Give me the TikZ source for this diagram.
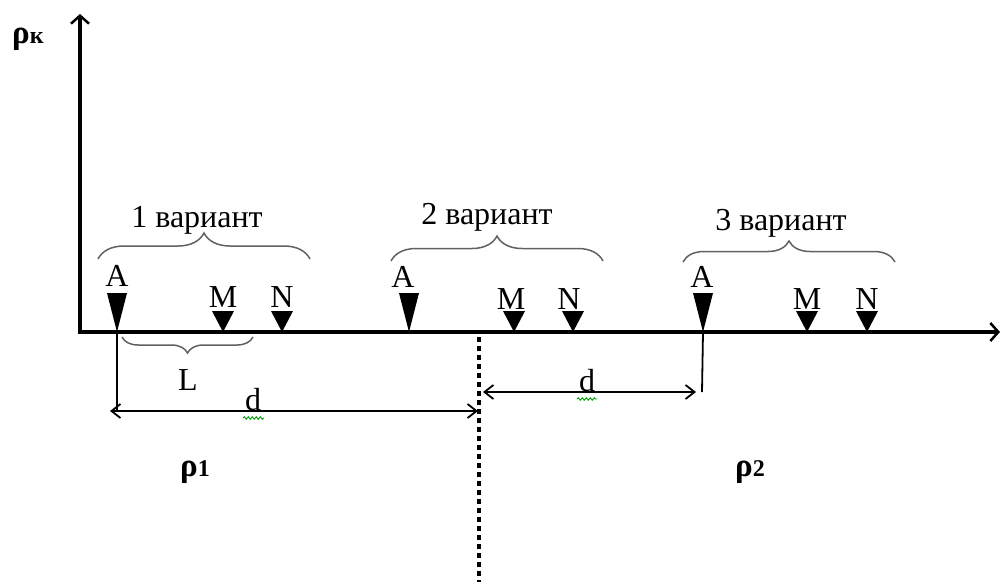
\documentclass[tikz,border=0pt]{standalone}
\usepackage{fontspec}
\setmainfont{Liberation Serif}
\usetikzlibrary{arrows.meta,decorations.pathreplacing,decorations.pathmorphing}
\begin{document}
\begin{tikzpicture}[x=1pt,y=-1pt,
  axisline/.style={line width=4pt,-{Straight Barb[length=8pt,width=18pt,line width=2.5pt]}},
  dimline/.style={line width=1.8pt,{Straight Barb[length=9pt,width=14pt]}-{Straight Barb[length=9pt,width=14pt]}},
  thinline/.style={line width=1.8pt},
  bracestyle/.style={draw=black!62,line width=1.5pt,decorate,decoration={brace,amplitude=#1}},
  lbl/.style={font=\fontsize{32}{34}\selectfont,inner sep=0pt},
  rholbl/.style={font=\fontsize{33}{34}\selectfont\bfseries,inner sep=0pt},
  squig/.style={draw=green!60!black,line width=0.9pt,decorate,decoration={snake,segment length=4pt,amplitude=1.2pt}},
  divider/.style={line width=4pt,dash pattern=on 4.5pt off 4.5pt}
]
\useasboundingbox (0,0) rectangle (1000,582);

% axes
\coordinate (O) at (80,332);
\coordinate (Ytop) at (80,14);
\coordinate (Xend) at (1000,332);
\draw[axisline] (O) -- (Ytop);
\draw[axisline] ([xshift=-2pt]O) -- (Xend);
\node[rholbl,anchor=base west] (rhok) at (12,43) {ρ\fontsize{24}{24}\selectfont к};

% electrodes
\foreach \n/\x in {A1/117,M1/223,N1/282,A2/409,M2/514,N2/573,A3/703,M3/807,N3/867}{
  \coordinate (\n) at (\x,332);
}
\foreach \n in {A1,A2,A3}{
  \fill (\n) -- ++(-10,-39) -- ++(20,0) -- cycle;
}
\foreach \n in {M1,N1,M2,N2,M3,N3}{
  \fill (\n) -- ++(-11,-21) -- ++(22,0) -- cycle;
}
\node[lbl] (lA1) at (117,276) {A};
\node[lbl] (lM1) at (223,297) {M};
\node[lbl] (lN1) at (282,297) {N};
\node[lbl] (lA2) at (403,277) {A};
\node[lbl] (lM2) at (511,299) {M};
\node[lbl] (lN2) at (569,299) {N};
\node[lbl] (lA3) at (702,277) {A};
\node[lbl] (lM3) at (807,299) {M};
\node[lbl] (lN3) at (867,299) {N};

% variant braces
\coordinate (b1s) at (98,259);  \coordinate (b1e) at (310,259);
\coordinate (b2s) at (391,261); \coordinate (b2e) at (603,261);
\coordinate (b3s) at (683,262); \coordinate (b3e) at (895,262);
\draw[bracestyle=26pt] (b1s) -- (b1e);
\draw[bracestyle=25pt] (b2s) -- (b2e);
\draw[bracestyle=21pt] (b3s) -- (b3e);
\node[lbl] (v1) at (197,220) {1 вариант};
\node[lbl] (v2) at (487,217) {2 вариант};
\node[lbl] (v3) at (781,223) {3 вариант};

% L brace
\coordinate (Ls) at (253,337); \coordinate (Le) at (122,337);
\draw[bracestyle=16pt] (Ls) -- (Le);
\node[lbl] (Llbl) at (188,380) {L};

% boundary
\coordinate (Dtop) at (479,337);
\coordinate (Dbot) at (479,582);
\draw[divider] (Dtop) -- (Dbot);

% d dimensions
\coordinate (d1l) at (117,411);
\coordinate (d1r) at (Dtop |- d1l);
\draw[thinline] (A1) -- (d1l);
\draw[dimline] ([xshift=-7pt]d1l) -- ([xshift=-1pt]d1r);
\node[lbl,anchor=base] (d1) at (253,410) {d};
\draw[squig] (243,418) -- (264,418);

\coordinate (d2r) at (702,392);
\coordinate (d2l) at (Dtop |- d2r);
\draw[thinline] (A3) -- (d2r);
\draw[dimline] ([xshift=4pt]d2l) -- ([xshift=-6pt]d2r);
\node[lbl,anchor=base] (d2) at (587,391) {d};
\draw[squig] (577,399) -- (597,399);

% resistivities
\node[rholbl,anchor=base west] (rho1) at (180,476) {ρ\fontsize{24}{24}\selectfont 1};
\node[rholbl,anchor=base west] (rho2) at (735,476) {ρ\fontsize{24}{24}\selectfont 2};
\end{tikzpicture}
\end{document}
